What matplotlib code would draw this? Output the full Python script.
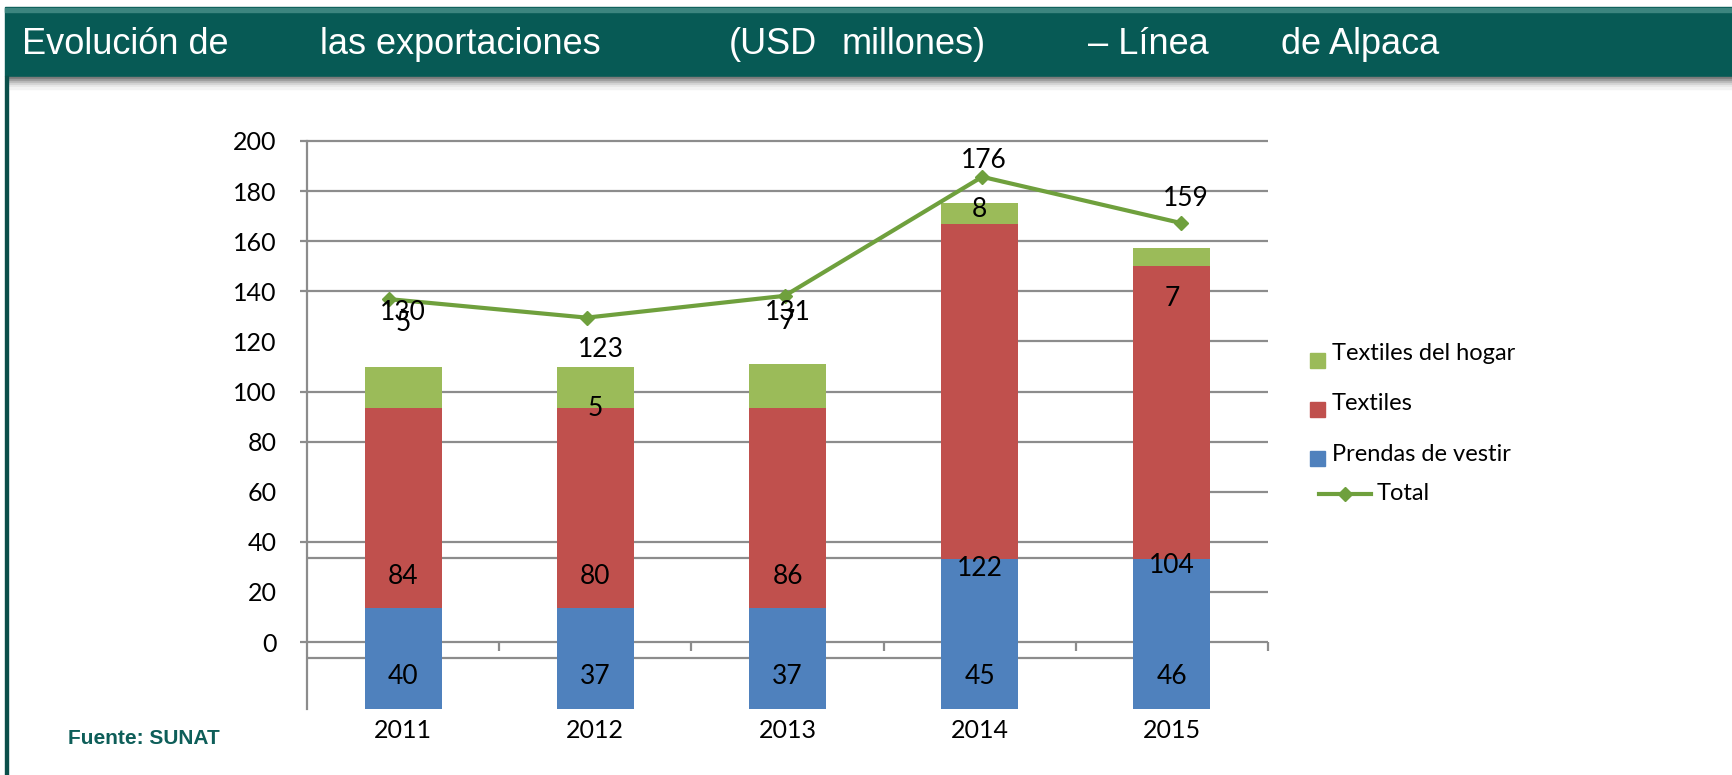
import matplotlib
matplotlib.use('Agg')
import numpy as np
import matplotlib.pyplot as plt
from matplotlib.patches import Rectangle
from matplotlib.lines import Line2D

# values printed on the chart (USD millones)
years = ['2011', '2012', '2013', '2014', '2015']
prendas = [40, 37, 37, 45, 46]
textiles = [84, 80, 86, 122, 104]
hogar = [5, 5, 7, 8, 7]
total = [130, 123, 131, 176, 159]

# where the segments and the line actually sit in the picture (axis units)
bar_base = [-26.7, -26.7, -26.7, -26.7, -26.7]
prendas_top = [13.7, 13.7, 13.7, 33.3, 33.3]
textiles_top = [93.5, 93.5, 93.5, 166.9, 150.1]
hogar_top = [109.8, 109.8, 110.9, 175.2, 157.3]
total_drawn = [136.9, 129.5, 138.2, 185.7, 167.3]

# layout of the labels as they appear
line_x = [-0.075, 0.955, 1.985, 3.013, 4.045]
prendas_lab_y = [-13.8, -13.8, -13.8, -13.8, -13.8]
textiles_lab_y = [26, 26, 26, 29.5, 30.5]
hogar_lab_y = [127.3, 93.4, 128, 172.5, 137.2]
total_lab_x = [0.0, 1.03, 2.0, 3.02, 4.07]
total_lab_y = [131.5, 116.8, 131.6, 192.4, 177.1]

BLUE = '#4F81BD'
RED = '#C0504D'
GREEN = '#9BBB59'
LINE = '#6FA03D'
GRID = '#8C8C8C'
TEAL = '#075A55'

W, H = 1732, 775
fig = plt.figure(figsize=(W / 100, H / 100), dpi=100)

def fx(x):
    return x / W

def fy(y):
    return 1 - y / H

# title bar
fig.add_artist(Rectangle((fx(5), fy(76)), 1 - fx(5), 69 / H, color=TEAL, transform=fig.transFigure))
fig.add_artist(Rectangle((fx(5), fy(12)), 1 - fx(5), 4 / H, color='#3C857F', transform=fig.transFigure))
shade = ['#7a7a7a', '#9a9a9a', '#b8b8b8', '#d2d2d2', '#e6e6e6', '#f3f3f3']
for i, c in enumerate(shade):
    fig.add_artist(Rectangle((fx(8), fy(77 + 2 * (i + 1))), 1 - fx(8), 2 / H, color=c,
                             transform=fig.transFigure))
# left border
fig.add_artist(Rectangle((fx(5), 0), 3 / W, fy(76), color='#0B4F4A', transform=fig.transFigure))

title_parts = [('Evolución de', 22), ('las exportaciones', 320), ('(USD', 729),
               ('millones)', 842), ('– Línea', 1088), ('de Alpaca', 1281)]
for txt, x in title_parts:
    fig.text(fx(x), fy(44), txt, color='white', fontsize=26, family='Liberation Sans',
             va='center', ha='left')

fig.text(fx(68), fy(738), 'Fuente: SUNAT', color='#0E5E59', fontsize=15, fontweight='bold',
         family='Liberation Sans', va='center', ha='left')

# chart area
ax = fig.add_axes([fx(307), fy(709), 961 / W, (709 - 141) / H])
ax.set_xlim(-0.5, 4.5)
ax.set_ylim(-26.7, 200)
x = np.arange(len(years))

# gridlines (some are only partly drawn in the original)
stub = -0.5 - 7 / 192.1
ax.hlines([200, 180, 160, 140, 100, 80, 40, 0], stub, 4.5, color=GRID, lw=1.6, zorder=1, clip_on=False)
ax.hlines([120], 3.2, 4.5, color=GRID, lw=1.6, zorder=1)
ax.hlines([60, 20], 4.2, 4.5, color=GRID, lw=1.6, zorder=1)
ax.hlines([33.5, -6.4], -0.5, 3.8, color=GRID, lw=1.6, zorder=1)
ax.vlines([0.5, 1.5, 2.5, 3.5, 4.5], -3.6, 0, color=GRID, lw=1.6, zorder=1, clip_on=False)

ax.bar(x, np.subtract(prendas_top, bar_base), bottom=bar_base, width=0.4, color=BLUE, zorder=2)
ax.bar(x, np.subtract(textiles_top, prendas_top), bottom=prendas_top, width=0.4, color=RED, zorder=2)
ax.bar(x, np.subtract(hogar_top, textiles_top), bottom=textiles_top, width=0.4, color=GREEN, zorder=2)
ax.plot(line_x, total_drawn, color=LINE, lw=3, marker='D', ms=7, zorder=3, clip_on=False)

lab = dict(fontsize=19, family='Lato', ha='center', va='center', zorder=4, clip_on=False)
for i in range(len(years)):
    ax.text(x[i], prendas_lab_y[i], str(prendas[i]), **lab)
    ax.text(x[i], textiles_lab_y[i], str(textiles[i]), **lab)
    ax.text(x[i], hogar_lab_y[i], str(hogar[i]), **lab)
    ax.text(total_lab_x[i], total_lab_y[i], str(total[i]), **lab)

for s in ['top', 'right', 'bottom']:
    ax.spines[s].set_visible(False)
ax.spines['left'].set_color(GRID)
ax.spines['left'].set_linewidth(1.6)

ax.set_yticks(range(0, 201, 20))
ax.set_xticks(x)
ax.set_xticklabels(years)
ax.tick_params(axis='y', length=0, pad=22, labelsize=18)
ax.tick_params(axis='x', length=0, pad=7, labelsize=18)
for t in ax.get_xticklabels() + ax.get_yticklabels():
    t.set_family('Lato')

# legend
leg_items = [('Textiles del hogar', GREEN, 353, 354), ('Textiles', RED, 402, 403),
             ('Prendas de vestir', BLUE, 451, 455)]
for name, c, sq_y, txt_y in leg_items:
    fig.add_artist(Rectangle((fx(1310), fy(sq_y + 15)), 15 / W, 15 / H, color=c, transform=fig.transFigure))
    fig.text(fx(1332), fy(txt_y), name, fontsize=17, family='Lato', va='center', ha='left')
fig.add_artist(Line2D([fx(1319), fx(1371)], [fy(494), fy(494)], color=LINE, lw=3, transform=fig.transFigure))
fig.add_artist(Line2D([fx(1345)], [fy(494)], color=LINE, marker='D', ms=7, transform=fig.transFigure))
fig.text(fx(1377), fy(493), 'Total', fontsize=17, family='Lato', va='center', ha='left')

fig.savefig('out.png', dpi=100)
